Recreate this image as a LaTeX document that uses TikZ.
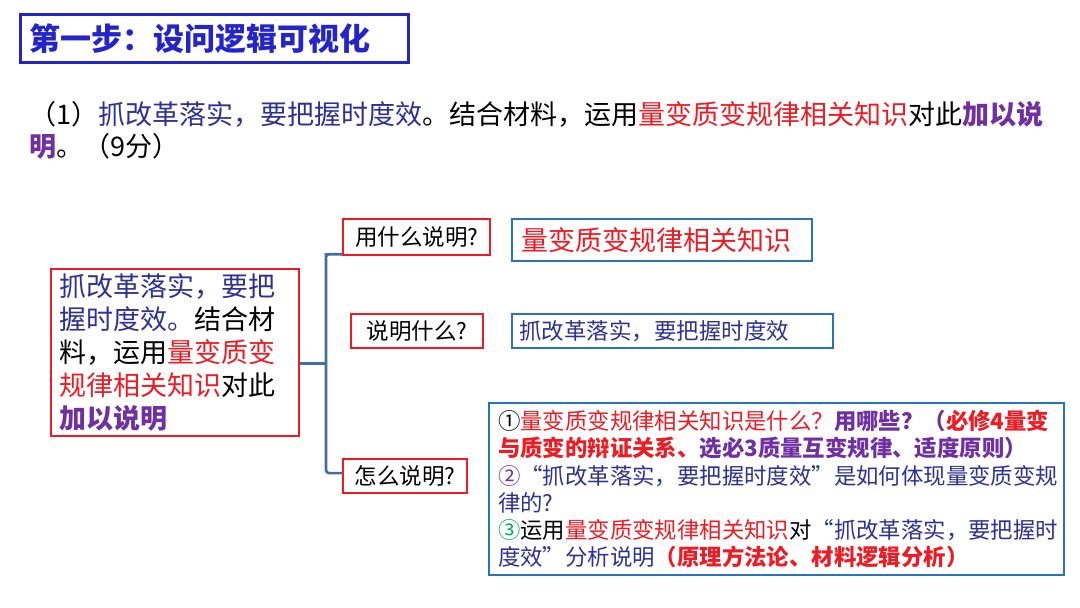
\documentclass[tikz,border=0pt]{standalone}
\usepackage{fontspec}
\setmainfont{Noto Sans CJK SC}
\definecolor{ctitle}{RGB}{36,36,200}
\definecolor{cred}{RGB}{237,28,36}
\definecolor{cnavy}{RGB}{46,49,146}
\definecolor{cpurple}{RGB}{112,48,160}
\definecolor{cbox}{RGB}{40,115,185}
\definecolor{cbrk}{RGB}{70,110,160}
\definecolor{cgreen}{RGB}{0,176,80}
\tikzset{
  redbox/.style={draw=cred, line width=2.2pt, anchor=north west, inner ysep=0pt},
  bluebox/.style={draw=cbox, line width=2.2pt, anchor=north west, inner ysep=0pt},
  qfont/.style={font=\fontsize{22.5}{27}\selectfont},
  bracket/.style={draw=cbrk, line width=2.6pt, rounded corners=3pt}
}
\begin{document}
\begin{tikzpicture}[x=1pt,y=-1pt]
\useasboundingbox[fill=white] (0,0) rectangle (1080,608);

% title
\node[draw=ctitle, line width=2.5pt, anchor=north west, minimum width=388pt, minimum height=48pt,
      text width=370pt, inner xsep=9pt, inner ysep=0pt, align=left, text=ctitle,
      font=\fontsize{31}{36}\selectfont\bfseries] (title) at (19,13) {第一步：设问逻辑可视化};

% question
\node[anchor=north west, inner sep=0pt, align=left, font=\fontsize{27}{32}\selectfont] (quest) at (29,101)
 {（1）\textcolor{cnavy}{抓改革落实，要把握时度效}。结合材料，运用\textcolor{cred}{量变质变规律相关知识}对此\textcolor{cpurple}{\bfseries 加以说}\\
  \textcolor{cpurple}{\bfseries 明}。（9分）};

% source box
\node[redbox, minimum width=248pt, minimum height=167pt, text width=232pt, inner xsep=8pt, align=left,
      text=cnavy, font=\fontsize{27}{33}\selectfont] (src) at (50,268)
 {抓改革落实，要把\\
  握时度效。\textcolor{black}{结合材}\\
  \textcolor{black}{料，运用}\textcolor{cred}{量变质变}\\
  \textcolor{cred}{规律相关知识}\textcolor{black}{对此}\\
  \textcolor{cpurple}{\bfseries 加以说明}};

% question boxes
\node[redbox, qfont, minimum width=147pt, minimum height=36pt] (q1) at (342,218) {用什么说明?};
\node[redbox, qfont, minimum width=132pt, minimum height=34pt] (q2) at (350,313) {说明什么?};
\node[redbox, qfont, minimum width=124pt, minimum height=34pt] (q3) at (342,458) {怎么说明?};

% answer boxes
\node[bluebox, minimum width=300pt, minimum height=42pt, text width=282pt, inner xsep=9pt, align=left,
      text=cred, font=\fontsize{27}{32}\selectfont] (a1) at (511,218) {量变质变规律相关知识};
\node[bluebox, qfont, minimum width=321pt, minimum height=34pt, text width=307pt, inner xsep=7pt, align=left,
      text=cnavy] (a2) at (511,313) {抓改革落实，要把握时度效};
\node[bluebox, minimum width=575pt, minimum height=172pt, text width=557pt, inner xsep=9pt, align=left,
      font=\fontsize{22.4}{27.2}\selectfont] (a3) at (488,402)
 {①\textcolor{cred}{量变质变规律相关知识是什么？}\textcolor{cpurple}{\bfseries 用哪些？（}\textcolor{cred}{\bfseries 必修4量变}\\
  \textcolor{cred}{\bfseries 与质变的辩证关系、}\textcolor{cpurple}{\bfseries 选必3质量互变规律、适度原则）}\\
  \textcolor{cpurple}{②}\textcolor{cnavy}{“抓改革落实，要把握时度效”是如何体现量变质变规}\\
  \textcolor{cnavy}{律的?}\\
  \textcolor{cgreen}{③}运用\textcolor{cred}{量变质变规律相关知识}对\textcolor{cnavy}{“抓改革落实，要把握时}\\
  \textcolor{cnavy}{度效”分析说明}\textcolor{cred}{\bfseries （原理方法论、材料逻辑分析）}};

% bracket
\coordinate (brk) at (326,0);
\draw[bracket] ([yshift=2pt]q1.south west) -| (brk |- q1.south) |- ([yshift=3pt]q3.west);
\draw[bracket] ([yshift=-11pt]src.east) -- ([yshift=-11pt]src.east -| brk);
\end{tikzpicture}
\end{document}
